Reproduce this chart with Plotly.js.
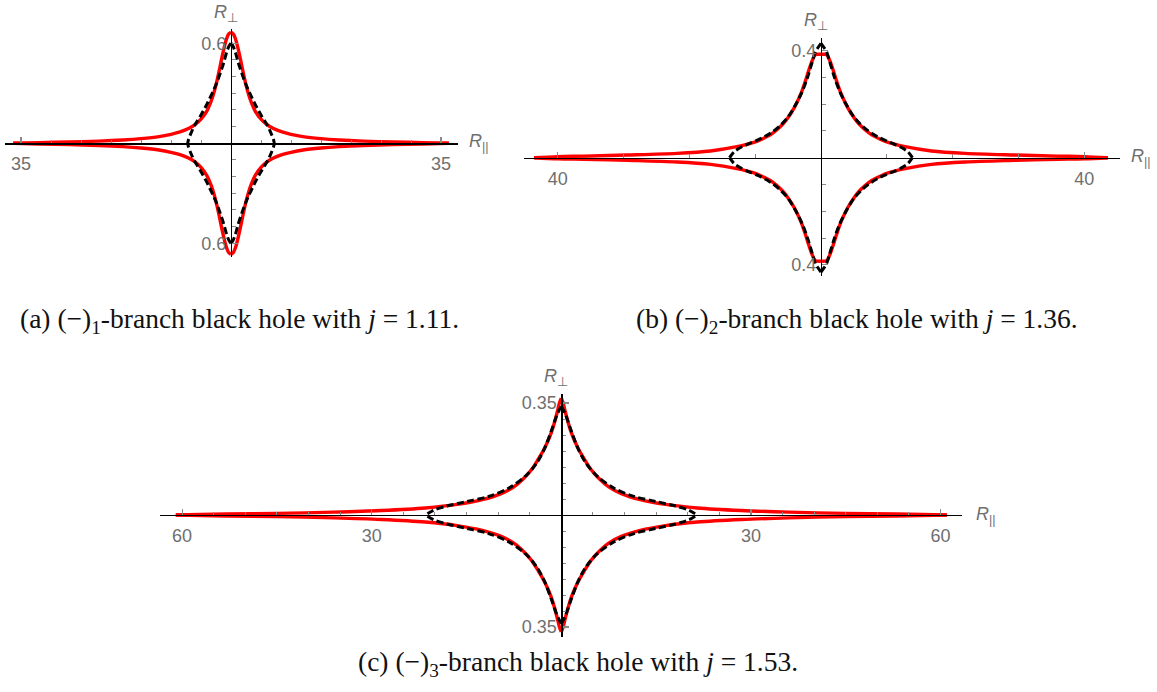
<!DOCTYPE html>
<html>
<head>
<meta charset="utf-8">
<script src="https://cdn.plot.ly/plotly-3.0.1.min.js"></script>
<style>
  html, body { margin: 0; padding: 0; background: #ffffff; }
  #plot { width: 1157px; height: 692px; }
</style>
</head>
<body>
<div id="plot"></div>
<script>
// Upper-right quadrant of every curve (R_parallel, R_perp); the full
// contours are symmetric about both axes and are completed by reflection.

// (a) (-)1-branch, j = 1.11
const redA_x   = [0, 0.4, 0.8, 1.2, 1.6, 2.0, 2.5, 3.0, 3.5, 4.0, 5.0, 6.0, 7.0, 8.5, 10, 12, 15, 18, 22, 27, 32, 36.3];
const redA_y   = [0.666, 0.655, 0.62, 0.565, 0.5, 0.43, 0.35, 0.285, 0.235, 0.195, 0.145, 0.112, 0.09, 0.068, 0.054, 0.04, 0.028, 0.02, 0.013, 0.008, 0.004, 0];
const blackA_x = [0, 0.3, 0.7, 1.2, 1.8, 2.4, 3.0, 3.6, 4.3, 5.0, 5.6, 6.1, 6.5, 6.85, 7.1, 7.22];
const blackA_y = [0.6, 0.585, 0.55, 0.485, 0.42, 0.36, 0.31, 0.265, 0.215, 0.17, 0.135, 0.105, 0.075, 0.045, 0.02, 0];

// (b) (-)2-branch, j = 1.36
const redB_x   = [0, 0.5, 0.9, 1.2, 1.6, 2.0, 2.4, 3.1, 4.1, 5.0, 5.7, 6.7, 7.7, 9, 10.2, 12.8, 16.8, 21.9, 29.5, 36, 40, 43.6];
const redB_y   = [0.386, 0.386, 0.384, 0.37, 0.345, 0.315, 0.284, 0.236, 0.185, 0.15, 0.128, 0.104, 0.085, 0.069, 0.057, 0.041, 0.025, 0.016, 0.01, 0.006, 0.004, 0];
const blackB_x = [0, 0.4, 0.8, 1.3, 2.0, 2.8, 3.8, 5.0, 6.2, 7.4, 8.6, 10, 11.2, 12.3, 13.2, 13.9];
const blackB_y = [0.427, 0.413, 0.398, 0.36, 0.303, 0.25, 0.2, 0.152, 0.12, 0.096, 0.078, 0.062, 0.05, 0.037, 0.022, 0];

// (c) (-)3-branch, j = 1.53
const redC_x   = [0, 0.3, 0.6, 1.0, 1.5, 2.1, 2.8, 3.6, 4.7, 6.0, 7.5, 9.5, 12.5, 16.5, 21.5, 28.5, 36, 45, 53, 61];
const redC_y   = [0.365, 0.35, 0.325, 0.295, 0.262, 0.232, 0.203, 0.176, 0.142, 0.113, 0.088, 0.067, 0.048, 0.033, 0.022, 0.014, 0.009, 0.005, 0.003, 0];
const blackC_x = [0, 0.4, 0.8, 1.6, 2.6, 3.9, 5.7, 8.3, 11.5, 15, 18.1, 20.2, 21.5];
const blackC_y = [0.339, 0.325, 0.307, 0.262, 0.21, 0.162, 0.121, 0.084, 0.058, 0.042, 0.028, 0.015, 0];

// Tick marks and their labels
const xTicksA = [-35, 35],            xLabelsA = ['35', '35'];
const xMinorA = [-30, -25, -20, -15, -10, -5, 5, 10, 15, 20, 25, 30];
const yTicksA = [-0.6, 0.6],          yLabelsA = ['0.6', '0.6'];
const yMinorA = [-0.5, -0.4, -0.3, -0.2, -0.1, 0.1, 0.2, 0.3, 0.4, 0.5];

const xTicksB = [-40, 40],            xLabelsB = ['40', '40'];
const xMinorB = [-30, -20, -10, 10, 20, 30];
const yTicksB = [-0.4, 0.4],          yLabelsB = ['0.4', '0.4'];
const yMinorB = [-0.3, -0.2, -0.1, 0.1, 0.2, 0.3];

const xTicksC = [-60, -30, 30, 60],   xLabelsC = ['60', '30', '30', '60'];
const xMinorC = [-55, -50, -45, -40, -35, -25, -20, -15, -10, -5, 5, 10, 15, 20, 25, 35, 40, 45, 50, 55];
const yTicksC = [-0.35, 0.35],        yLabelsC = ['0.35', '0.35'];
const yMinorC = [-0.3, -0.25, -0.2, -0.15, -0.1, -0.05, 0.05, 0.1, 0.15, 0.2, 0.25, 0.3];

const captionA = '(a) (\u2212)<sub>1</sub>-branch black hole with <i>j</i> = 1.11.';
const captionB = '(b) (\u2212)<sub>2</sub>-branch black hole with <i>j</i> = 1.36.';
const captionC = '(c) (\u2212)<sub>3</sub>-branch black hole with <i>j</i> = 1.53.';

const W = 1157, H = 692;

// Each quadrant becomes its own line segment so that the corners stay sharp.
function fourQuadrants(qx, qy) {
  const xs = [], ys = [];
  const push = (sx, sy) => {
    for (let i = 0; i < qx.length; i++) { xs.push(sx * qx[i]); ys.push(sy * qy[i]); }
    xs.push(null); ys.push(null);
  };
  push(1, 1); push(-1, 1); push(1, -1); push(-1, -1);
  return { x: xs, y: ys };
}

// Panel frames in page pixels: origin, scale (px per unit) and axis extents.
const frames = [
  { ox: 231,   oy: 143.3, sx: 6.0,  sy: 166.7, left: 5,   right: 458,  top: 29,  bottom: 257 },
  { ox: 821,   oy: 157.7, sx: 6.58, sy: 268,   left: 524, right: 1120, top: 38,  bottom: 276 },
  { ox: 561.3, oy: 515,   sx: 6.32, sy: 320,   left: 160, right: 962,  top: 394, bottom: 637 }
];

const panels = [
  { red: [redA_x, redA_y], black: [blackA_x, blackA_y], xt: xTicksA, xl: xLabelsA, xm: xMinorA, yt: yTicksA, yl: yLabelsA, ym: yMinorA },
  { red: [redB_x, redB_y], black: [blackB_x, blackB_y], xt: xTicksB, xl: xLabelsB, xm: xMinorB, yt: yTicksB, yl: yLabelsB, ym: yMinorB },
  { red: [redC_x, redC_y], black: [blackC_x, blackC_y], xt: xTicksC, xl: xLabelsC, xm: xMinorC, yt: yTicksC, yl: yLabelsC, ym: yMinorC }
];

const tickFont = { family: 'Liberation Sans, Arial, sans-serif', size: 18, color: '#6f6f6f' };
const data = [];
const layout = {
  width: W, height: H,
  margin: { l: 0, r: 0, t: 0, b: 0 },
  paper_bgcolor: '#ffffff', plot_bgcolor: 'rgba(0,0,0,0)',
  showlegend: false,
  annotations: []
};

panels.forEach((p, k) => {
  const f = frames[k];
  const suf = k === 0 ? '' : String(k + 1);
  const xa = 'x' + suf, ya = 'y' + suf;

  const red = fourQuadrants(p.red[0], p.red[1]);
  data.push({ x: red.x, y: red.y, xaxis: xa, yaxis: ya, mode: 'lines', hoverinfo: 'skip',
              line: { color: '#ff0000', width: 3.4, shape: 'spline', smoothing: 0.9 } });
  const blk = fourQuadrants(p.black[0], p.black[1]);
  data.push({ x: blk.x, y: blk.y, xaxis: xa, yaxis: ya, mode: 'lines', hoverinfo: 'skip',
              line: { color: '#000000', width: 3, dash: '7px,3.5px', shape: 'spline', smoothing: 0.9 } });

  layout['xaxis' + suf] = {
    domain: [f.left / W, f.right / W],
    range: [(f.left - f.ox) / f.sx, (f.right - f.ox) / f.sx],
    anchor: 'free', position: 1 - f.oy / H, side: 'bottom',
    showline: true, linecolor: '#000000', linewidth: 1.3,
    showgrid: false, zeroline: false, fixedrange: true,
    tickmode: 'array', tickvals: p.xt, ticktext: p.xl,
    ticks: 'inside', ticklen: 6, tickwidth: 1.2, tickcolor: '#8a8a8a',
    ticklabelstandoff: 4, tickfont: tickFont,
    minor: { tickmode: 'array', tickvals: p.xm, ticks: 'inside', ticklen: 3.5, tickwidth: 1, tickcolor: '#8a8a8a' }
  };
  layout['yaxis' + suf] = {
    domain: [1 - f.bottom / H, 1 - f.top / H],
    range: [(f.oy - f.bottom) / f.sy, (f.oy - f.top) / f.sy],
    anchor: 'free', position: f.ox / W, side: 'left',
    showline: true, linecolor: '#000000', linewidth: 1.3,
    showgrid: false, zeroline: false, fixedrange: true,
    tickmode: 'array', tickvals: p.yt, ticktext: p.yl,
    ticks: 'inside', ticklen: 6, tickwidth: 1.2, tickcolor: '#8a8a8a',
    ticklabelstandoff: 1, tickfont: tickFont,
    minor: { tickmode: 'array', tickvals: p.ym, ticks: 'inside', ticklen: 3.5, tickwidth: 1, tickcolor: '#8a8a8a' }
  };
});

// Axis names and captions, placed in page pixels
const px = v => v / W, py = v => 1 - v / H;
const axisFont = { family: 'Liberation Sans, Arial, sans-serif', size: 18, color: '#6f6f6f' };
function label(text, x, y, xanchor) {
  layout.annotations.push({ text, x: px(x), y: py(y), xref: 'paper', yref: 'paper',
    xanchor, yanchor: 'middle', showarrow: false, font: axisFont });
}
label('<i>R</i><sub>\u22a5</sub>', 226, 14, 'center');
label('<i>R</i><sub>||</sub>', 467, 143, 'left');
label('<i>R</i><sub>\u22a5</sub>', 816, 21, 'center');
label('<i>R</i><sub>||</sub>', 1129, 157, 'left');
label('<i>R</i><sub>\u22a5</sub>', 556, 377, 'center');
label('<i>R</i><sub>||</sub>', 974, 515, 'left');

const capFont = { family: 'Liberation Serif, Times New Roman, serif', size: 27.5, color: '#111111' };
function caption(text, x, y) {
  layout.annotations.push({ text, x: px(x), y: py(y), xref: 'paper', yref: 'paper',
    xanchor: 'center', yanchor: 'middle', showarrow: false, font: capFont });
}
caption(captionA, 239, 321);
caption(captionB, 857, 321);
caption(captionC, 578, 663);

Plotly.newPlot('plot', data, layout, { staticPlot: true, displayModeBar: false });
</script>
</body>
</html>
